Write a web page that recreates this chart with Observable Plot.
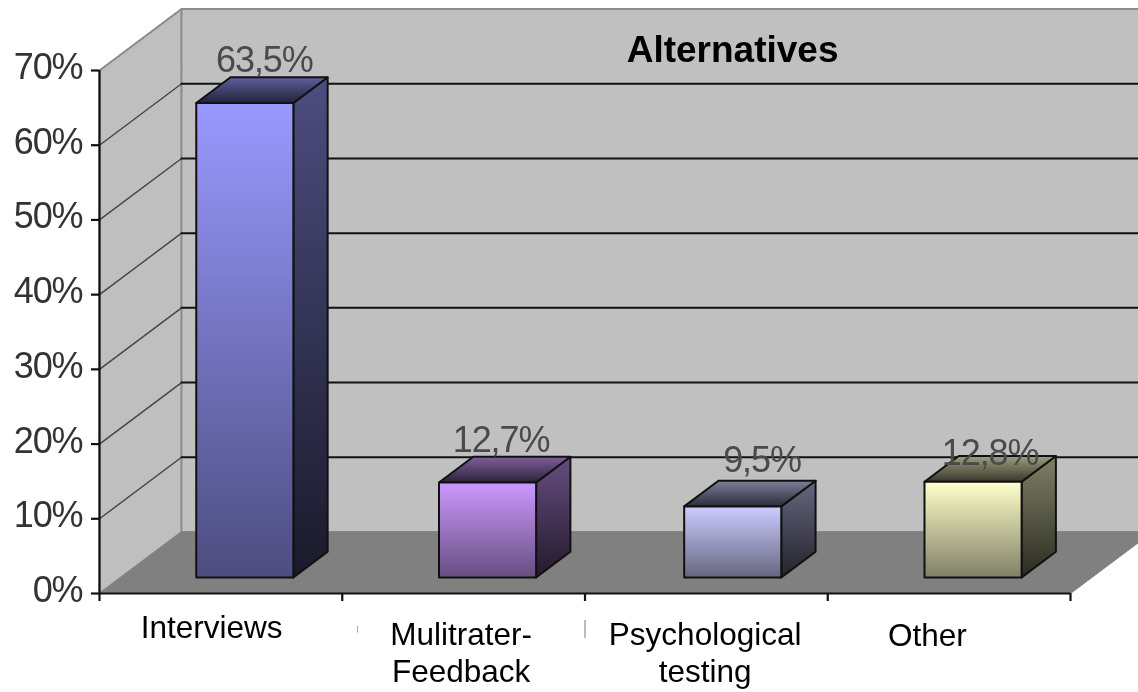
<!DOCTYPE html>
<html>
<head>
<meta charset="utf-8">
<style>
html,body{margin:0;padding:0;background:#fff}
svg{display:block;filter:blur(0.5px)}
</style>
<script src="https://cdn.jsdelivr.net/npm/d3@7"></script>
<script src="https://cdn.jsdelivr.net/npm/@observablehq/plot@0.6"></script>
</head>
<body>
<div id="chart"></div>
<script>
// Data
const categories = ["Interviews", "Mulitrater-\nFeedback", "Psychological\ntesting", "Other"];
const values = [63.5, 12.7, 9.5, 12.8];
const valueLabels = ["63,5%", "12,7%", "9,5%", "12,8%"];
const yTicks = [0, 10, 20, 30, 40, 50, 60, 70];
const xTicks = [0, 1, 2, 3, 4];
const title = "Alternatives";

// Colours
const barColors = ["#9999ff", "#cc99ff", "#ccccff", "#ffffcc"];

// Layout in data units (category widths, percent points)
const depthX = 0.338, depthY = 8.23;
const barHalf = 0.2, barZ0 = 0.262, barZ1 = 0.68;
const barCenter = [0.51, 1.51, 2.52, 3.51];
const labelShift = [[0, 2.15], [-0.025, 2.15], [0.04, 2.65], [-0.01, 0.25]];
const catPos = [[0.462, -4.35], [1.49, -7.75], [2.495, -7.75], [3.41, -5.5]];
const P = (x, y, z) => ({x: x + z * depthX, y: y + z * depthY});

function poly(points, fill, stroke, strokeWidth) {
  return Plot.line([...points, points[0]], {x: "x", y: "y", fill, stroke, strokeWidth, strokeLinejoin: "round"});
}

const walls = [
  poly([P(0,0,0), P(0,70,0), P(0,70,1), P(0,0,1)], "#bfbfbf", "#8c8c8c", 1.8),
  poly([P(0,0,1), P(0,70,1), P(4,70,1), P(4,0,1)], "#c0c0c0", "#8c8c8c", 1.8),
];
const gridBack = yTicks.filter(d => d > 0 && d < 70).map(t =>
  Plot.line([P(0,t,1), P(4,t,1)], {x:"x", y:"y", stroke:"#111", strokeWidth:2}));
const gridSide = yTicks.filter(d => d > 0).map(t =>
  Plot.line([P(0,t,0), P(0,t,1)], {x:"x", y:"y", stroke: t === 70 ? "#8c8c8c" : "#444", strokeWidth:1.4}));
const floor = poly([P(0,0,0), P(4,0,0), P(4,0,1), P(0,0,1)], "#808080", "#808080", 1);

const bars = values.flatMap((v, i) => {
  const l = barCenter[i] - barHalf, r = barCenter[i] + barHalf;
  return [
    poly([P(r,0,barZ0), P(r,v,barZ0), P(r,v,barZ1), P(r,0,barZ1)], `url(#side${i})`, "#111", 2),
    poly([P(l,v,barZ0), P(r,v,barZ0), P(r,v,barZ1), P(l,v,barZ1)], `url(#top${i})`, "#111", 2),
    poly([P(l,0,barZ0), P(r,0,barZ0), P(r,v,barZ0), P(l,v,barZ0)], `url(#front${i})`, "#111", 2),
  ];
});

const labelRows = values.map((v, i) => {
  const p = P(barCenter[i] + labelShift[i][0], v + labelShift[i][1], 0.5);
  return {...p, text: valueLabels[i]};
});
const catRows = categories.map((c, i) => ({x: catPos[i][0], y: catPos[i][1], text: c}));

const chart = Plot.plot({
  width: 1138, height: 692,
  marginLeft: 99, marginRight: 68, marginTop: 70, marginBottom: 99,
  x: {type: "linear", domain: [0, 4]},
  y: {type: "linear", domain: [0, 70]},
  style: {fontFamily: "'Liberation Sans', Arial, sans-serif", background: "#fff"},
  marks: [
    ...walls,
    ...gridSide,
    ...gridBack,
    floor,
    Plot.ruleY([0], {x1: 0, x2: 4, stroke: "#111", strokeWidth: 2.2}),
    Plot.ruleX([0], {y1: 0, y2: 70, stroke: "#111", strokeWidth: 2.2}),
    Plot.axisY({ticks: yTicks, tickSize: 8, label: null, tickFormat: () => "", stroke: "#111", strokeWidth: 2.2}),
    Plot.text(yTicks, {x: 0, y: d => d, text: d => d + "%", dx: -17, dy: -3, fontSize: 36, fill: "#333", textAnchor: "end", lineAnchor: "middle"}),
    Plot.axisX({ticks: xTicks, tickSize: 8, label: null, tickFormat: () => "", stroke: "#111", strokeWidth: 2.2}),
    ...bars,
    Plot.text(labelRows, {x: "x", y: "y", text: "text", fontSize: 36, fill: "#4a4a4a", textAnchor: "middle", lineAnchor: "bottom"}),
    Plot.text(catRows, {x: "x", y: "y", text: "text", fontSize: 31.5, fill: "#000", textAnchor: "middle", lineAnchor: "middle", lineHeight: 1.17}),
    Plot.text([title], {x: 2.608, y: 72.7, fontSize: 37, fontWeight: "bold", fill: "#000", textAnchor: "middle", lineAnchor: "middle"}),
    Plot.ruleX([2], {y1: -6, y2: -3.6, stroke: "#777", strokeWidth: 1}),
    Plot.ruleX([1.063], {y1: -5.3, y2: -4.4, stroke: "#aaa", strokeWidth: 1}),
  ]
});

// The percentage labels are set slightly tighter than the font's default
d3.select(chart).selectAll("text")
  .filter(function() { return this.textContent.endsWith("%"); })
  .style("letter-spacing", "-1.1px");

// Gradients for the shaded faces
const defs = d3.select(chart).insert("defs", ":first-child");
const shade = (hex, k) => { const c = d3.rgb(hex); return d3.rgb(c.r * k, c.g * k, c.b * k).formatHex(); };
function gradient(id, c0, c1) {
  const g = defs.append("linearGradient").attr("id", id).attr("x1", 0).attr("y1", 0).attr("x2", 0).attr("y2", 1);
  g.append("stop").attr("offset", "0%").attr("stop-color", c0);
  g.append("stop").attr("offset", "100%").attr("stop-color", c1);
}
barColors.forEach((c, i) => {
  gradient(`front${i}`, c, shade(c, 0.5));
  gradient(`side${i}`, shade(c, 0.5), shade(c, 0.17));
  gradient(`top${i}`, shade(c, 0.62), shade(c, 0.22));
});

document.getElementById("chart").append(chart);
</script>
</body>
</html>
